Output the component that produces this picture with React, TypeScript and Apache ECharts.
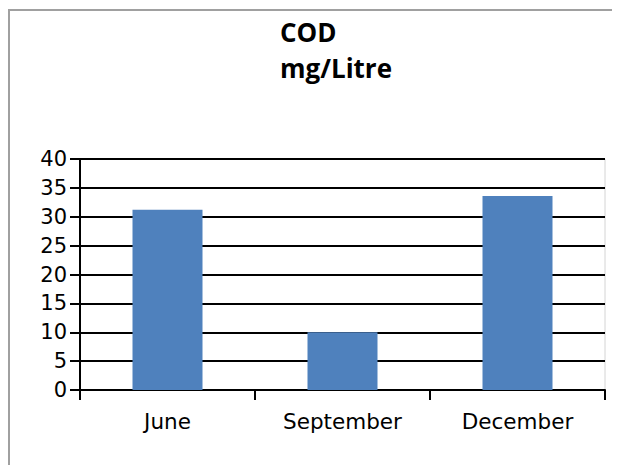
import React, { useEffect, useRef } from "react";
import * as echarts from "echarts";

const categories = ["June", "September", "December"];
const codValues = [31.2, 10, 33.6];
const titleLines = ["COD", "mg/Litre"];

export default function App() {
  const ref = useRef<HTMLDivElement>(null);
  useEffect(() => {
    if (!ref.current) return;
    const chart = echarts.init(ref.current, undefined, { renderer: "svg" });
    chart.setOption({
      animation: false,
      backgroundColor: "#fff",
      title: {
        text: titleLines.join("\n"),
        left: 267,
        top: 1,
        textStyle: {
          fontFamily: "Open Sans",
          fontWeight: "bold",
          fontSize: 26,
          lineHeight: 36,
          color: "#000",
        },
      },
      graphic: [
        {
          type: "rect",
          shape: { x: 1, y: 2, width: 800, height: 800 },
          style: { fill: "none", stroke: "#a0a0a0", lineWidth: 2 },
          silent: true,
        },
      ],
      grid: {
        left: 72,
        top: 151,
        right: 15,
        bottom: 75,
        show: true,
        borderColor: "#d4d4d4",
        borderWidth: 1,
      },
      xAxis: {
        type: "category",
        data: categories,
        axisLine: { show: true, lineStyle: { color: "#000", width: 2 } },
        axisTick: { show: true, length: 10, lineStyle: { color: "#000", width: 2 } },
        axisLabel: {
          fontFamily: "DejaVu Sans",
          fontSize: 21.5,
          color: "#000",
          margin: 20,
        },
        splitLine: { show: false },
      },
      yAxis: {
        type: "value",
        min: 0,
        max: 40,
        interval: 5,
        axisLine: { show: true, lineStyle: { color: "#000", width: 2 } },
        axisTick: { show: true, length: 10, lineStyle: { color: "#000", width: 2 } },
        axisLabel: {
          fontFamily: "DejaVu Sans",
          fontSize: 21,
          color: "#000",
          margin: 13,
        },
        splitLine: { show: true, lineStyle: { color: "#000", width: 2 } },
      },
      series: [
        {
          type: "bar",
          data: codValues,
          barWidth: "40%",
          itemStyle: { color: "#4f81bd" },
        },
      ],
    });
    return () => chart.dispose();
  }, []);
  return <div ref={ref} style={{ width: 612, height: 457 }} />;
}
